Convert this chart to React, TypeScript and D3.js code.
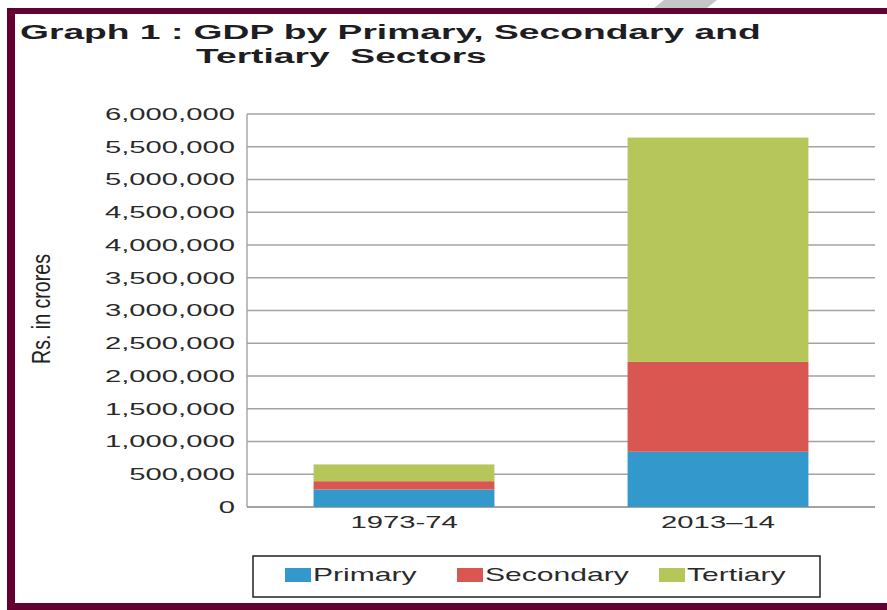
import React from "react";
import * as d3 from "d3";

const categories = ["1973-74", "2013–14"];
const seriesNames = ["Primary", "Secondary", "Tertiary"];
const seriesColors = ["#3399cc", "#d95750", "#b6c65a"];
const primary = [267000, 843000];
const secondary = [127000, 1372000];
const tertiary = [256000, 3425000];
const yTicks = [0, 500000, 1000000, 1500000, 2000000, 2500000, 3000000, 3500000, 4000000, 4500000, 5000000, 5500000, 6000000];
const titleLines = ["Graph 1 : GDP by Primary, Secondary and", "Tertiary  Sectors"];
const yAxisTitle = "Rs. in crores";

const W = 887;
const H = 610;
const SX = 1.72; // horizontal stretch of the scanned figure
const FONT = "'Liberation Sans', Arial, Helvetica, sans-serif";

export default function App() {
  const left = 247;
  const right = 875;
  const top = 114;
  const bottom = 507;

  const x = d3
    .scaleBand<string>()
    .domain(categories)
    .range([left, right])
    .paddingInner(0.424)
    .paddingOuter(0.212);
  const y = d3.scaleLinear().domain([0, 6000000]).range([bottom, top]);

  const rows = categories.map((c, i) => ({
    cat: c,
    Primary: primary[i],
    Secondary: secondary[i],
    Tertiary: tertiary[i],
  }));
  const stacked = d3.stack<any>().keys(seriesNames)(rows);
  const fmt = d3.format(",");

  const legendX = [285, 457, 659];

  return (
    <svg
      width={W}
      height={H}
      style={{ position: "absolute", left: 0, top: 0, background: "#fff" }}
      fontFamily={FONT}
    >
      <rect x={0} y={0} width={W} height={H} fill="#fff" />
      {/* scan artefact at top */}
      <polygon points="664,0 717,0 702,12 649,12" fill="#c6c6c6" />
      {/* maroon frame */}
      <rect x={7} y={8} width={W - 7} height={6} fill="#620030" />
      <rect x={7} y={8} width={8} height={H - 8} fill="#620030" />
      <rect x={7} y={603} width={W - 7} height={7} fill="#620030" />

      {/* title */}
      <g transform={`translate(20,38.5) scale(1.86,1)`}>
        <text fontSize={20} fontWeight="bold" fill="#1d1d22">
          {titleLines[0]}
        </text>
      </g>
      <g transform={`translate(196,63) scale(1.86,1)`}>
        <text fontSize={20} fontWeight="bold" fill="#1d1d22" style={{ whiteSpace: "pre" }}>
          {titleLines[1]}
        </text>
      </g>

      {/* gridlines */}
      {yTicks.map((t) => (
        <line
          key={"g" + t}
          x1={left}
          x2={right}
          y1={y(t)}
          y2={y(t)}
          stroke="#a3a3a7"
          strokeWidth={t === 0 ? 2 : 1.4}
        />
      ))}
      <line x1={left} x2={left} y1={y(6000000)} y2={y(0)} stroke="#a3a3a7" strokeWidth={1.4} />

      {/* tick labels */}
      {yTicks.map((t) => (
        <g key={"t" + t} transform={`translate(235,${y(t)}) scale(${SX},1)`}>
          <text fontSize={17} textAnchor="end" dy="0.35em" fill="#2a2a2a">
            {fmt(t)}
          </text>
        </g>
      ))}

      {/* y axis title */}
      <g transform={`translate(50,309) rotate(-90) scale(0.74,1)`}>
        <text fontSize={26.5} textAnchor="middle" fill="#222">
          {yAxisTitle}
        </text>
      </g>

      {/* bars */}
      {stacked.map((s, si) => (
        <g key={s.key} fill={seriesColors[si]}>
          {s.map((d, i) => (
            <rect
              key={i}
              x={x(categories[i])}
              width={x.bandwidth()}
              y={y(d[1])}
              height={y(d[0]) - y(d[1])}
            />
          ))}
        </g>
      ))}

      {/* category labels */}
      {categories.map((c) => (
        <g key={c} transform={`translate(${(x(c) as number) + x.bandwidth() / 2},528) scale(${SX},1)`}>
          <text fontSize={17} textAnchor="middle" fill="#2a2a2a">
            {c}
          </text>
        </g>
      ))}

      {/* legend */}
      <rect x={253} y={556} width={567} height={41} fill="#fff" stroke="#222" strokeWidth={1.5} />
      {seriesNames.map((n, i) => (
        <g key={n}>
          <rect x={legendX[i]} y={568} width={26} height={14} fill={seriesColors[i]} />
          <g transform={`translate(${legendX[i] + 28},581) scale(${SX},1)`}>
            <text fontSize={17.5} fill="#2a2a2a">
              {n}
            </text>
          </g>
        </g>
      ))}
    </svg>
  );
}
